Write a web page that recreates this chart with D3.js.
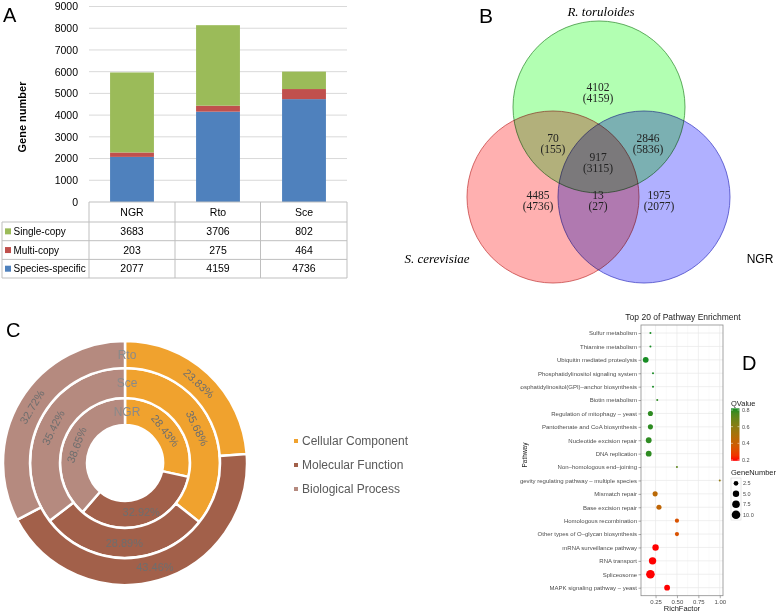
<!DOCTYPE html>
<html><head><meta charset="utf-8">
<script src="https://cdn.jsdelivr.net/npm/d3@7"></script>
<style>body{margin:0;background:#fff}</style>
</head><body>
<script>
// ---------- DATA ----------
// Panel A
const catsA = ["NGR", "Rto", "Sce"];
const singleCopy = [3683, 3706, 802];
const multiCopy = [203, 275, 464];
const speciesSpecific = [2077, 4159, 4736];
const yTicksA = [0, 1000, 2000, 3000, 4000, 5000, 6000, 7000, 8000, 9000];
const seriesNamesA = ["Single-copy", "Multi-copy", "Species-specific"];

// Panel B (Venn)
const vennSets = ["R. toruloides", "S. cerevisiae", "NGR"];
const vennRegions = ["Rto only", "Rto&Sce", "Rto&NGR", "all", "Sce only", "Sce&NGR", "NGR only"];
const vennCounts = [4102, 70, 2846, 917, 4485, 13, 1975];
const vennTotals = [4159, 155, 5836, 3115, 4736, 27, 2077];

// Panel C (GO doughnut)
const goCategories = ["Cellular Component", "Molecular Function", "Biological Process"];
const ringNames = ["NGR", "Sce", "Rto"];
const goNGR = [28.43, 32.92, 38.65];
const goSce = [35.68, 28.89, 35.42];
const goRto = [23.83, 43.46, 32.72];

// Panel D (KEGG enrichment)
const pathways = ["Sulfur metabolism", "Thiamine metabolism", "Ubiquitin mediated proteolysis",
  "Phosphatidylinositol signaling system", "Glycosylphosphatidylinositol(GPI)–anchor biosynthesis",
  "Biotin metabolism", "Regulation of mitophagy – yeast", "Pantothenate and CoA biosynthesis",
  "Nucleotide excision repair", "DNA replication", "Non–homologous end–joining",
  "Longevity regulating pathway – multiple species", "Mismatch repair", "Base excision repair",
  "Homologous recombination", "Other types of O–glycan biosynthesis", "mRNA surveillance pathway",
  "RNA transport", "Spliceosome", "MAPK signaling pathway – yeast"];
const richFactor = [0.19, 0.19, 0.135, 0.22, 0.22, 0.27, 0.19, 0.19, 0.17, 0.17, 0.5, 1.0, 0.245, 0.29, 0.5, 0.5, 0.25, 0.215, 0.19, 0.385];
const geneNumber = [1, 1, 4, 1, 1, 1, 3, 3, 4, 4, 1, 1, 3, 3, 2, 2, 5, 7, 10, 4];
const qValue = [0.82, 0.82, 0.82, 0.82, 0.82, 0.8, 0.8, 0.8, 0.8, 0.8, 0.72, 0.58, 0.45, 0.43, 0.34, 0.34, 0.19, 0.19, 0.19, 0.19];
const richTicks = [0.25, 0.5, 0.75, 1.0];
const qTicks = [0.2, 0.4, 0.6, 0.8];
const sizeTicks = [2.5, 5.0, 7.5, 10.0];

// ---------- SVG ----------
const svg = d3.select("body").append("svg").attr("width", 778).attr("height", 613)
  .style("font-family", "'Liberation Sans', Arial, sans-serif");
svg.append("rect").attr("width", 778).attr("height", 613).attr("fill", "#fff");

// ---------- PANEL A ----------
(function () {
  const g = svg.append("g");
  const colorsA = { "Single-copy": "#9bbb59", "Multi-copy": "#c0504d", "Species-specific": "#4f81bd" };
  const x = d3.scaleBand().domain(catsA).range([89, 347]);
  const y = d3.scaleLinear().domain([0, 9000]).range([202, 6.5]);

  g.append("g").selectAll("line").data(yTicksA.slice(1)).join("line")
    .attr("x1", 89).attr("x2", 347).attr("y1", d => y(d)).attr("y2", d => y(d))
    .attr("stroke", "#d9d9d9").attr("stroke-width", 1);

  const ax = g.append("g").attr("transform", "translate(89,0)")
    .call(d3.axisLeft(y).tickValues(yTicksA).tickSize(0).tickPadding(11).tickFormat(d3.format("d")));
  ax.select(".domain").remove();
  ax.selectAll("text").attr("font-size", 10.5).attr("fill", "#000")
    .attr("font-family", "'Liberation Sans', Arial, sans-serif");

  const rows = catsA.map((c, i) => ({ cat: c, "Species-specific": speciesSpecific[i], "Multi-copy": multiCopy[i], "Single-copy": singleCopy[i] }));
  const stack = d3.stack().keys(["Species-specific", "Multi-copy", "Single-copy"])(rows);
  const bw = x.bandwidth() * 0.51;
  g.append("g").selectAll("g").data(stack).join("g").attr("fill", d => colorsA[d.key])
    .selectAll("rect").data(d => d).join("rect")
    .attr("x", d => x(d.data.cat) + (x.bandwidth() - bw) / 2)
    .attr("width", bw)
    .attr("y", d => y(d[1])).attr("height", d => y(d[0]) - y(d[1]));

  g.append("text").attr("transform", "translate(26,117) rotate(-90)").attr("text-anchor", "middle")
    .attr("font-size", 11).attr("font-weight", "bold").text("Gene number");

  // data table
  const rowY = [202, 222, 240.7, 259.4, 278];
  const lc = "#bfbfbf";
  const tg = g.append("g");
  tg.append("line").attr("x1", 89).attr("x2", 347).attr("y1", rowY[0]).attr("y2", rowY[0]).attr("stroke", lc);
  rowY.slice(1).forEach(yy => tg.append("line").attr("x1", 2).attr("x2", 347).attr("y1", yy).attr("y2", yy).attr("stroke", lc));
  tg.append("line").attr("x1", 2).attr("x2", 2).attr("y1", rowY[1]).attr("y2", rowY[4]).attr("stroke", lc);
  [89, 175, 260.5, 347].forEach(xx => tg.append("line").attr("x1", xx).attr("x2", xx).attr("y1", rowY[0]).attr("y2", rowY[4]).attr("stroke", lc));
  catsA.forEach(c => tg.append("text").attr("x", x(c) + x.bandwidth() / 2).attr("y", (rowY[0] + rowY[1]) / 2)
    .attr("dy", "0.35em").attr("text-anchor", "middle").attr("font-size", 10.5).text(c));
  const seriesVals = [singleCopy, multiCopy, speciesSpecific];
  seriesNamesA.forEach((name, r) => {
    const cy = (rowY[r + 1] + rowY[r + 2]) / 2;
    tg.append("rect").attr("x", 5).attr("y", cy - 3).attr("width", 6).attr("height", 6).attr("fill", colorsA[name]);
    tg.append("text").attr("x", 13.5).attr("y", cy).attr("dy", "0.35em").attr("font-size", 10).text(name);
    catsA.forEach((c, i) => tg.append("text").attr("x", x(c) + x.bandwidth() / 2).attr("y", cy).attr("dy", "0.35em")
      .attr("text-anchor", "middle").attr("font-size", 10.5).text(seriesVals[r][i]));
  });
  g.append("text").attr("x", 3).attr("y", 22).attr("font-size", 20).text("A");
})();

// ---------- PANEL B ----------
(function () {
  const g = svg.append("g");
  const R = 86;
  const circles = [
    { name: vennSets[0], cx: 599, cy: 107, fill: "rgb(178,255,178)", stroke: "rgb(60,150,60)" },
    { name: vennSets[1], cx: 553, cy: 197, fill: "rgb(255,176,176)", stroke: "rgb(200,70,70)" },
    { name: vennSets[2], cx: 644, cy: 197, fill: "rgb(176,176,255)", stroke: "rgb(70,70,200)" }
  ];
  g.selectAll("circle").data(circles).join("circle")
    .attr("cx", d => d.cx).attr("cy", d => d.cy).attr("r", R)
    .attr("fill", d => d.fill).attr("stroke", d => d.stroke).attr("stroke-width", 0.8)
    .style("mix-blend-mode", "multiply");
  const G = circles[0], S = circles[1], N = circles[2];
  const pos = [
    [G.cx - 1, G.cy - 15], [S.cx, G.cy + 36], [N.cx + 4, G.cy + 36], [G.cx - 1, G.cy + 55],
    [S.cx - 15, S.cy + 3], [G.cx - 1, S.cy + 3], [N.cx + 15, N.cy + 3]
  ];
  const lg = g.append("g").attr("font-family", "'Liberation Serif', 'Times New Roman', serif").attr("font-size", 11.5)
    .attr("text-anchor", "middle").attr("fill", "#222");
  vennCounts.forEach((v, i) => {
    lg.append("text").attr("x", pos[i][0]).attr("y", pos[i][1] - 5.5).attr("dy", "0.35em").text(v);
    lg.append("text").attr("x", pos[i][0]).attr("y", pos[i][1] + 5.5).attr("dy", "0.35em").text("(" + vennTotals[i] + ")");
  });
  g.append("text").attr("x", G.cx + 2).attr("y", 16).attr("text-anchor", "middle")
    .attr("font-family", "'Liberation Serif', serif").attr("font-style", "italic").attr("font-size", 13).text(vennSets[0]);
  g.append("text").attr("x", 437).attr("y", 263).attr("text-anchor", "middle")
    .attr("font-family", "'Liberation Serif', serif").attr("font-style", "italic").attr("font-size", 13).text(vennSets[1]);
  g.append("text").attr("x", 760).attr("y", 263).attr("text-anchor", "middle").attr("font-size", 12).text(vennSets[2]);
  g.append("text").attr("x", 479).attr("y", 23).attr("font-size", 21).text("B");
})();

// ---------- PANEL C ----------
(function () {
  const g = svg.append("g").attr("transform", "translate(125,463)");
  const colorsC = d3.scaleOrdinal().domain(goCategories).range(["#f0a22e", "#a2604a", "#b58a7f"]);
  const ringData = [goNGR, goSce, goRto];
  const radii = [[38, 65], [65, 95], [95, 122]];
  const pie = d3.pie().sort(null).value(d => d);
  ringData.forEach((vals, ri) => {
    const arc = d3.arc().innerRadius(radii[ri][0]).outerRadius(radii[ri][1]);
    const arcs = pie(vals);
    g.append("g").selectAll("path").data(arcs).join("path")
      .attr("d", arc).attr("fill", (d, i) => colorsC(goCategories[i]))
      .attr("stroke", "#fff").attr("stroke-width", 2.5);
    const rm = (radii[ri][0] + radii[ri][1]) / 2;
    arcs.forEach(a => {
      const mid = (a.startAngle + a.endAngle) / 2;
      const deg = mid * 180 / Math.PI;
      let rot = deg;
      if (deg > 90 && deg < 270) rot = 0;
      const px = rm * Math.sin(mid), py = -rm * Math.cos(mid);
      g.append("text").attr("transform", `translate(${px},${py}) rotate(${rot})`)
        .attr("text-anchor", "middle").attr("dy", "0.35em").attr("font-size", 11)
        .attr("fill", "#6e6e6e").text(a.data.toFixed(2) + "%");
    });
  });
  ringNames.forEach((n, ri) => {
    const rm = (radii[ri][0] + radii[ri][1]) / 2;
    g.append("text").attr("x", 2).attr("y", -rm).attr("dy", "0.35em").attr("text-anchor", "middle")
      .attr("font-size", 12).attr("fill", "#8a8a8a").text(n);
  });
  const lg = svg.append("g");
  goCategories.forEach((c, i) => {
    const yy = 441 + i * 24;
    lg.append("rect").attr("x", 294).attr("y", yy - 2).attr("width", 4).attr("height", 4).attr("fill", colorsC(c));
    lg.append("text").attr("x", 302).attr("y", yy).attr("dy", "0.35em").attr("font-size", 12).attr("fill", "#595959").text(c);
  });
  svg.append("text").attr("x", 6).attr("y", 337).attr("font-size", 20).text("C");
})();

// ---------- PANEL D ----------
(function () {
  svg.append("clipPath").attr("id", "clipD").append("rect").attr("x", 520).attr("y", 300).attr("width", 258).attr("height", 313);
  const g = svg.append("g").attr("clip-path", "url(#clipD)");
  const L = 641, Rr = 723, T = 325, B = 595.7;
  const x = d3.scaleLinear().domain([0.08, 1.038]).range([L, Rr]);
  const y = d3.scalePoint().domain(pathways).range([T, B]).padding(0.6);
  const col = d3.scaleLinear().domain([0.2, 0.8]).range(["#ff0000", "#2e8b22"]).interpolate(d3.interpolateLab);
  const rScale = v => 1.0 + (4.3 - 1.0) * Math.sqrt((v - 1) / (10 - 1));

  g.append("rect").attr("x", L).attr("y", T).attr("width", Rr - L).attr("height", B - T).attr("fill", "#fff");
  const minor = [0.125, 0.375, 0.625, 0.875];
  g.append("g").selectAll("line").data(minor).join("line")
    .attr("x1", d => x(d)).attr("x2", d => x(d)).attr("y1", T).attr("y2", B).attr("stroke", "#f4f4f4").attr("stroke-width", 0.5);
  g.append("g").selectAll("line").data(richTicks).join("line")
    .attr("x1", d => x(d)).attr("x2", d => x(d)).attr("y1", T).attr("y2", B).attr("stroke", "#e8e8e8").attr("stroke-width", 0.7);
  g.append("g").selectAll("line").data(pathways).join("line")
    .attr("x1", L).attr("x2", Rr).attr("y1", d => y(d)).attr("y2", d => y(d)).attr("stroke", "#e8e8e8").attr("stroke-width", 0.7);

  const pts = pathways.map((p, i) => ({ p, rf: richFactor[i], gn: geneNumber[i], q: qValue[i] }));
  g.append("g").selectAll("circle").data(pts).join("circle")
    .attr("cx", d => x(d.rf)).attr("cy", d => y(d.p)).attr("r", d => rScale(d.gn)).attr("fill", d => col(d.q));

  g.append("rect").attr("x", L).attr("y", T).attr("width", Rr - L).attr("height", B - T)
    .attr("fill", "none").attr("stroke", "#8c8c8c").attr("stroke-width", 0.8);

  const ay = g.append("g").attr("transform", `translate(${L},0)`).call(d3.axisLeft(y).tickSize(2.5).tickPadding(1.5));
  ay.select(".domain").remove();
  ay.selectAll("line").attr("stroke", "#555").attr("stroke-width", 0.5);
  ay.selectAll("text").attr("font-size", 6).attr("fill", "#4d4d4d").attr("font-family", "'Liberation Sans', Arial, sans-serif");
  const axx = g.append("g").attr("transform", `translate(0,${B})`).call(d3.axisBottom(x).tickValues(richTicks).tickFormat(d3.format(".2f")).tickSize(2.5).tickPadding(1.5));
  axx.select(".domain").remove();
  axx.selectAll("line").attr("stroke", "#555").attr("stroke-width", 0.5);
  axx.selectAll("text").attr("font-size", 6).attr("fill", "#4d4d4d").attr("font-family", "'Liberation Sans', Arial, sans-serif");

  g.append("text").attr("x", (L + Rr) / 2).attr("y", 611).attr("text-anchor", "middle").attr("font-size", 7.5).attr("fill", "#222").text("RichFactor");
  g.append("text").attr("transform", "translate(527,455) rotate(-90)").attr("text-anchor", "middle").attr("font-size", 6.5).attr("fill", "#222").text("Pathway");
  g.append("text").attr("x", 683).attr("y", 320).attr("text-anchor", "middle").attr("font-size", 8.5).attr("fill", "#222").text("Top 20 of Pathway Enrichment");

  // QValue legend
  const qy = d3.scaleLinear().domain([0.2, 0.8]).range([460, 410]);
  const qMin = d3.min(qValue), qMax = d3.max(qValue);
  const grad = svg.append("defs").append("linearGradient").attr("id", "qgrad").attr("x1", 0).attr("x2", 0).attr("y1", 1).attr("y2", 0);
  d3.range(0, 1.0001, 0.1).forEach(t => grad.append("stop").attr("offset", t).attr("stop-color", col(qMin + t * (qMax - qMin))));
  g.append("text").attr("x", 731).attr("y", 406).attr("font-size", 7.5).attr("fill", "#222").text("QValue");
  g.append("rect").attr("x", 731).attr("y", qy(qMax)).attr("width", 8.5).attr("height", qy(qMin) - qy(qMax)).attr("fill", "url(#qgrad)");
  qTicks.forEach(t => {
    g.append("line").attr("x1", 731).attr("x2", 733).attr("y1", qy(t)).attr("y2", qy(t)).attr("stroke", "#fff").attr("stroke-width", 0.5);
    g.append("line").attr("x1", 737.5).attr("x2", 739.5).attr("y1", qy(t)).attr("y2", qy(t)).attr("stroke", "#fff").attr("stroke-width", 0.5);
    g.append("text").attr("x", 742).attr("y", qy(t)).attr("dy", "0.35em").attr("font-size", 5.5).attr("fill", "#4d4d4d").text(t.toFixed(1));
  });
  // GeneNumber legend
  g.append("text").attr("x", 731).attr("y", 475).attr("font-size", 7.5).attr("fill", "#222").text("GeneNumber");
  g.append("rect").attr("x", 731).attr("y", 478).attr("width", 10).attr("height", 42).attr("fill", "#fff").attr("stroke", "#d0d0d0").attr("stroke-width", 0.5);
  sizeTicks.forEach((s, i) => {
    const cy = 483.3 + i * 10.5;
    g.append("circle").attr("cx", 736).attr("cy", cy).attr("r", rScale(s)).attr("fill", "#000");
    g.append("text").attr("x", 743).attr("y", cy).attr("dy", "0.35em").attr("font-size", 5.5).attr("fill", "#4d4d4d").text(s.toFixed(1));
  });
  svg.append("text").attr("x", 742).attr("y", 370).attr("font-size", 20).text("D");
})();
</script>
</body></html>
